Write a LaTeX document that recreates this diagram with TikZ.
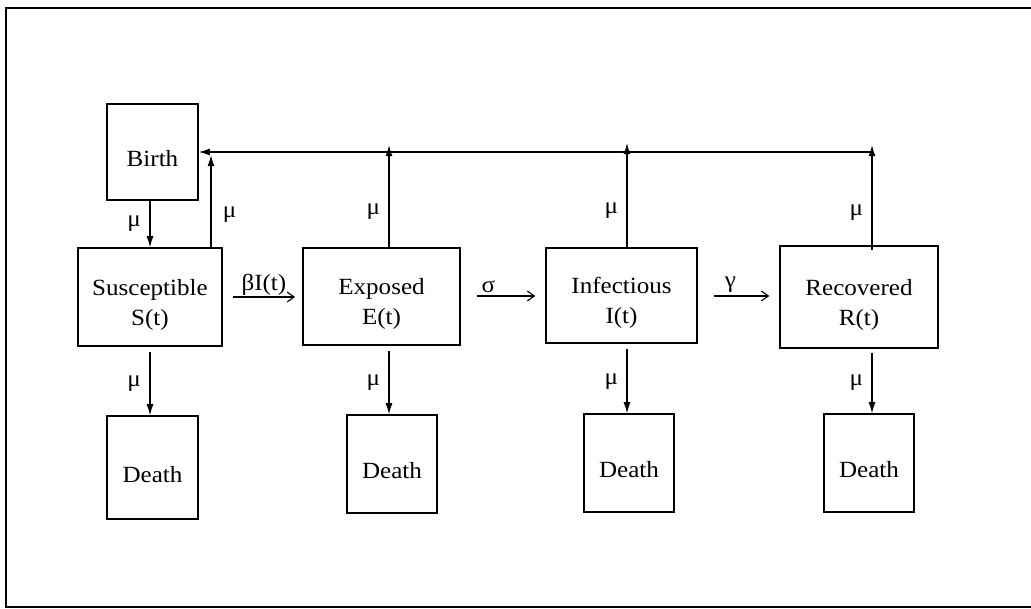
\documentclass[tikz,border=0pt]{standalone}
\usepackage{fontspec}
\setmainfont{Liberation Serif}[FakeStretch=1.08]
\usetikzlibrary{arrows.meta}

\tikzset{
  box/.style={draw, line width=0.9pt, align=center, inner sep=0pt, text height=21pt},
  twoline/.style={box, text height=44pt},
  flow/.style={line width=0.9pt, -{Latex[length=8pt,width=5pt]}},
  rate/.style={line width=0.8pt, -{Straight Barb[length=5pt,width=7pt]}},
}

\begin{document}
\begin{tikzpicture}[x=0.025cm, y=-0.025cm, font=\fontsize{16.5}{21.5}\selectfont]
	\useasboundingbox (0,0) rectangle (1031,609);
	\draw[line width=1.2pt] (1040,8) -- (6,8) -- (6,607) -- (1040,607);

	% compartments
	\node[box, minimum width=2.275cm, minimum height=2.4cm] (birth) at (152.5,152) {Birth};
	\node[twoline, minimum width=3.6cm, minimum height=2.45cm] (sus) at (150,297) {Susceptible\\S(t)};
	\node[twoline, minimum width=3.925cm, minimum height=2.425cm] (exp) at (381.5,296.5) {Exposed\\E(t)};
	\node[twoline, minimum width=3.775cm, minimum height=2.375cm] (inf) at (621.5,295.5) {Infectious\\I(t)};
	\node[twoline, minimum width=3.95cm, minimum height=2.55cm] (rec) at (859,297) {Recovered\\R(t)};

	\node[box, minimum width=2.275cm, minimum height=2.575cm] (deathS) at (152.5,467.5) {Death};
	\node[box, minimum width=2.25cm, minimum height=2.45cm] (deathE) at (392,464) {Death};
	\node[box, minimum width=2.25cm, minimum height=2.45cm] (deathI) at (629,463) {Death};
	\node[box, minimum width=2.25cm, minimum height=2.45cm] (deathR) at (869,463) {Death};

	% births back to the top line
	\coordinate (upS) at (211,155);
	\coordinate (upE) at (389,145);
	\coordinate (upI) at (627,143);
	\coordinate (upR) at (872,145);
	\coordinate (hub) at (872,152);

	\path (birth.south -| sus.north) edge[flow] node[left, inner sep=6pt] {μ} (sus.north);
	\path (upS |- sus.north) edge[flow] node[right, inner sep=8pt, pos=0.35] {μ} (upS);
	\path (upE |- exp.north) edge[flow] node[left, inner sep=6pt, pos=0.35] {μ} (upE);
	\path (upI |- inf.north) edge[flow] node[left, inner sep=6pt, pos=0.35] {μ} (upI);
	\path ([yshift=-3pt]upR |- rec.north) edge[flow] node[left, inner sep=6pt, pos=0.35] {μ} (upR);
	\path (hub) edge[flow] (birth.east |- hub);

	% transitions
	\path ([xshift=0.25cm]sus.east |- 0,297) edge[rate] node[above, inner sep=1pt] {βI(t)} ([xshift=-0.18cm]exp.west |- 0,297);
	\path ([xshift=0.4cm]exp.east |- 0,296) edge[rate] node[above, inner sep=2pt, pos=0.2] {σ} ([xshift=-0.25cm]inf.west |- 0,296);
	\path ([xshift=0.4cm]inf.east |- 0,296) edge[rate] node[above, inner sep=2pt, pos=0.3] {γ} ([xshift=-0.25cm]rec.west |- 0,296);

	% deaths
	\path ([yshift=-4pt]sus.south) edge[flow] node[left, inner sep=6pt] {μ} (sus.south |- deathS.north);
	\path ([yshift=-4pt]upE |- exp.south) edge[flow] node[left, inner sep=6pt] {μ} (upE |- deathE.north);
	\path ([yshift=-4pt]upI |- inf.south) edge[flow] node[left, inner sep=6pt] {μ} (upI |- deathI.north);
	\path ([yshift=-3pt]upR |- rec.south) edge[flow] node[left, inner sep=6pt] {μ} (upR |- deathR.north);
\end{tikzpicture}
\end{document}
